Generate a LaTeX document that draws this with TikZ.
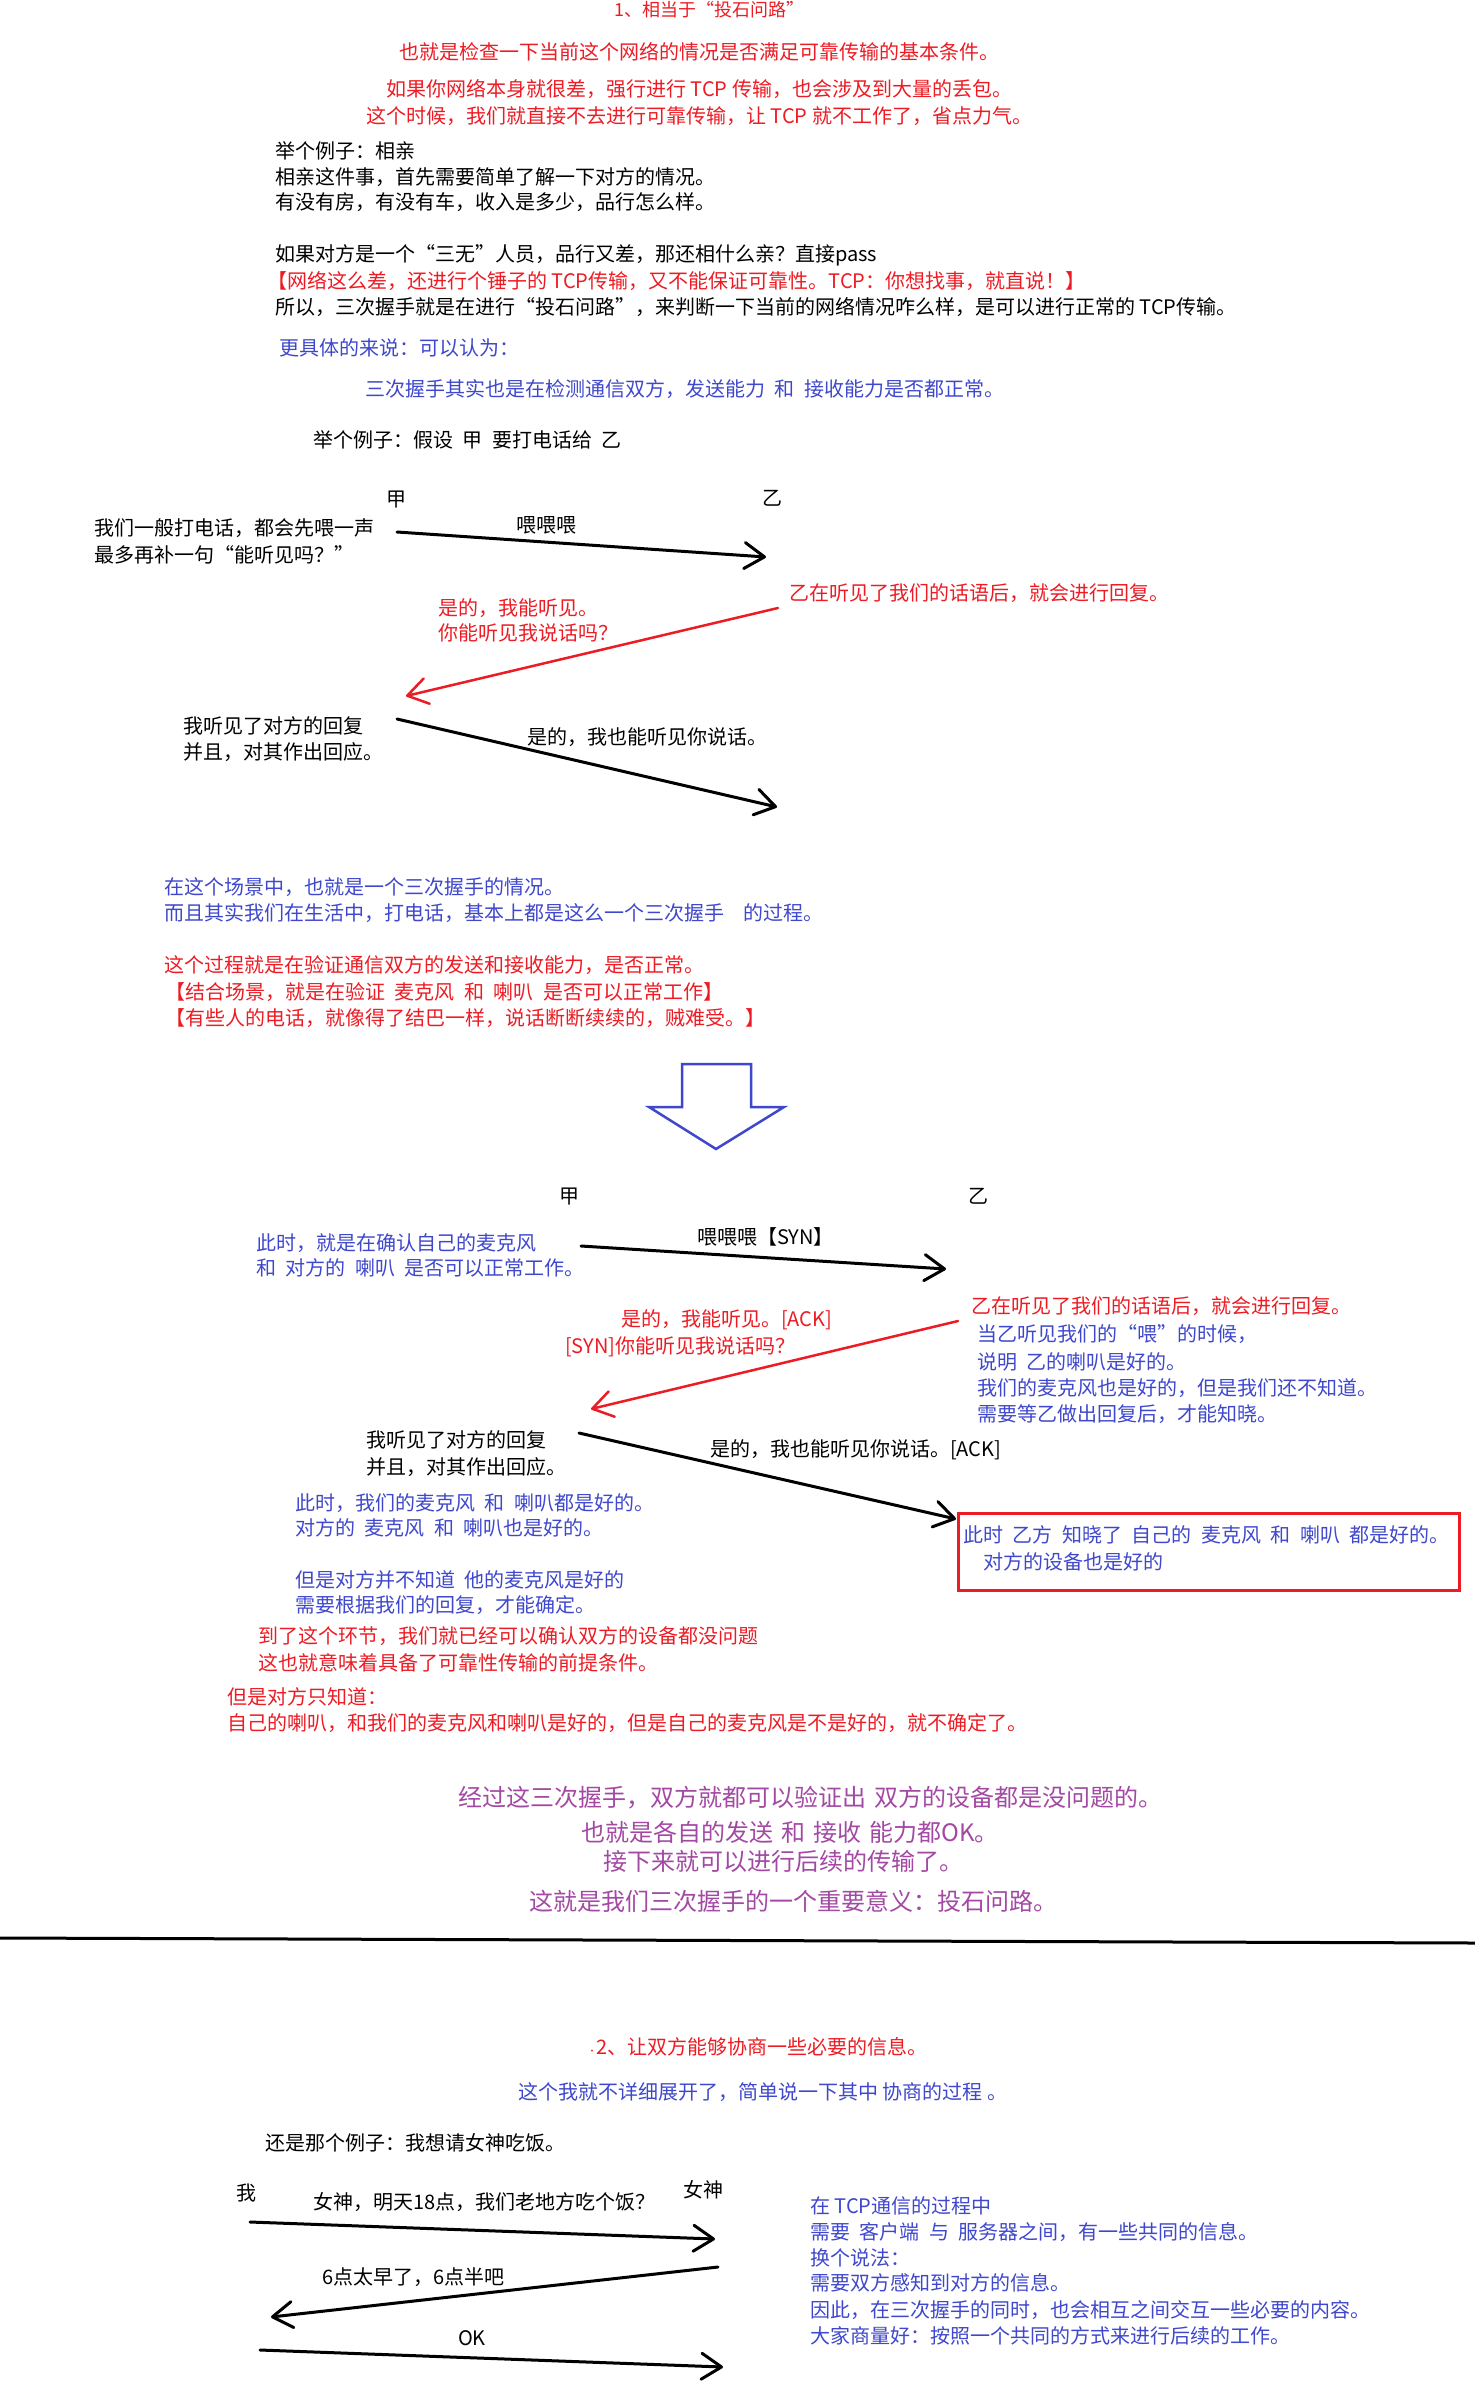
\documentclass[tikz,border=0pt]{standalone}
\usepackage{fontspec}
\setmainfont{Noto Sans CJK SC}
\usetikzlibrary{arrows.meta}
\definecolor{pred}{HTML}{ED1C24}
\definecolor{pblue}{HTML}{3F48CC}
\definecolor{ppurple}{HTML}{A349A4}
% body text: 20bp glyphs, wide word spaces between Chinese words
\newcommand\bodysize{\fontsize{20bp}{26bp}\selectfont\spaceskip 9.5bp\relax}
% body text with the font's own spaces, for lines mixing in Latin words
\newcommand\latinsize{\fontsize{20bp}{26bp}\selectfont\spaceskip 0pt\relax}
\newcommand\bigsize{\fontsize{24bp}{30bp}\selectfont\spaceskip 8bp\relax}
\newcommand\titlesize{\fontsize{18bp}{22bp}\selectfont}
\newcommand\tinydot{\makebox[8bp][c]{\fontsize{9bp}{9bp}\selectfont ·}}
\begin{document}
\begin{tikzpicture}[x=1bp,y=-1bp,
  txt/.style={anchor=west,inner sep=0pt,font=\bodysize},
  latin/.style={font=\latinsize},
  redtxt/.style={txt,text=pred},
  bluetxt/.style={txt,text=pblue},
  bigtxt/.style={txt,font=\bigsize,text=ppurple},
  lbl/.style={anchor=center,inner sep=0pt,font=\bodysize},
  msg/.style={line width=3bp,line cap=round,-{Straight Barb[length=20bp,width=26bp,round]}},
  redmsg/.style={msg,draw=pred,line width=2.5bp},
]
\fill[white] (0,0) rectangle (1475,2403);
\useasboundingbox (0,0) rectangle (1475,2403);

% ---- part 1: heading and introduction ----
\node[txt,font=\titlesize,text=pred] (title) at (614,10) {1、相当于“投石问路”};
\node[redtxt] (r1) at (399,52) {也就是检查一下当前这个网络的情况是否满足可靠传输的基本条件。};
\node[redtxt,latin] (r2) at (386,89) {如果你网络本身就很差，强行进行 TCP 传输，也会涉及到大量的丢包。};
\node[redtxt,latin] (r3) at (366,116) {这个时候，我们就直接不去进行可靠传输，让 TCP 就不工作了，省点力气。};

\node[txt] (e1) at (275,151) {举个例子：相亲};
\node[txt] (e2) at (275,177) {相亲这件事，首先需要简单了解一下对方的情况。};
\node[txt] (e3) at (275,202) {有没有房，有没有车，收入是多少，品行怎么样。};
\node[txt] (e4) at (275,255) {如果对方是一个“三无”人员，品行又差，那还相什么亲？直接pass};
\node[redtxt,latin] (e5) at (267,281) {【网络这么差，还进行个锤子的 TCP传输，又不能保证可靠性。TCP：你想找事，就直说！】};
\node[txt,latin] (e6) at (275,307) {所以，三次握手就是在进行“投石问路”，来判断一下当前的网络情况咋么样，是可以进行正常的 TCP传输。};

\node[bluetxt] (b1) at (279,348) {更具体的来说：可以认为：};
\node[bluetxt] (b2) at (365,389) {三次握手其实也是在检测通信双方，发送能力 和 接收能力是否都正常。};
\node[txt] (ex) at (313,440) {举个例子：假设 甲 要打电话给 乙};

% ---- first phone call ----
\node[lbl] (jia1) at (396,500) {甲};
\node[lbl] (yi1) at (772,498) {乙};
\node[txt] (d1a) at (94,528) {我们一般打电话，都会先喂一声};
\node[txt] (d1b) at (94,555) {最多再补一句“能听见吗？”};
\node[txt] (d1c) at (516,525) {喂喂喂};
\node[redtxt] (d1d) at (789,593) {乙在听见了我们的话语后，就会进行回复。};
\node[redtxt] (d1e) at (438,608) {是的，我能听见。};
\node[redtxt] (d1f) at (438,633) {你能听见我说话吗？};
\node[txt] (d1g) at (183,726) {我听见了对方的回复};
\node[txt] (d1h) at (183,752) {并且，对其作出回应。};
\node[txt] (d1i) at (527,737) {是的，我也能听见你说话。};

\coordinate (a1s) at (397,532);
\coordinate (a1e) at (766,557);
\coordinate (a2s) at (778,608);
\coordinate (a2e) at (406,696);
\coordinate (a3s) at (397,719);
\coordinate (a3e) at (777,807);
\draw[msg] (a1s) -- (a1e);
\draw[redmsg] (a2s) -- (a2e);
\draw[msg] (a3s) -- (a3e);

% ---- comments on the first call ----
\node[bluetxt] (c1) at (164,887) {在这个场景中，也就是一个三次握手的情况。};
\node[bluetxt] (c2) at (164,913) {而且其实我们在生活中，打电话，基本上都是这么一个三次握手\ \ 的过程。};
\node[redtxt] (c3) at (164,965) {这个过程就是在验证通信双方的发送和接收能力，是否正常。};
\node[redtxt] (c4) at (165,992) {【结合场景，就是在验证 麦克风 和 喇叭 是否可以正常工作】};
\node[redtxt] (c5) at (165,1018) {【有些人的电话，就像得了结巴一样，说话断断续续的，贼难受。】};

% hollow down arrow
\draw[pblue,line width=2.5bp,line join=miter]
  (682,1064) -- (751,1064) -- (751,1107) -- (784,1107) -- (716,1149)
  -- (649,1107) -- (682,1107) -- cycle;

% ---- second phone call with SYN / ACK ----
\node[lbl] (jia2) at (569,1197) {甲};
\node[lbl] (yi2) at (978,1196) {乙};
\node[bluetxt] (s1) at (256,1243) {此时，就是在确认自己的麦克风};
\node[bluetxt] (s2) at (256,1268) {和 对方的 喇叭 是否可以正常工作。};
\node[txt] (s3) at (697,1237) {喂喂喂【SYN】};
\node[redtxt] (s4) at (971,1306) {乙在听见了我们的话语后，就会进行回复。};
\node[redtxt] (s5) at (621,1320) {是的，我能听见。[ACK]};
\node[redtxt] (s6) at (565,1347) {[SYN]你能听见我说话吗？};
\node[bluetxt] (s7) at (977,1334) {当乙听见我们的“喂”的时候，};
\node[bluetxt] (s8) at (977,1362) {说明 乙的喇叭是好的。};
\node[bluetxt] (s9) at (977,1388) {我们的麦克风也是好的，但是我们还不知道。};
\node[bluetxt] (s10) at (977,1414) {需要等乙做出回复后，才能知晓。};
\node[txt] (s11) at (366,1440) {我听见了对方的回复};
\node[txt] (s12) at (366,1467) {并且，对其作出回应。};
\node[txt] (s13) at (710,1450) {是的，我也能听见你说话。[ACK]};
\node[bluetxt] (s14) at (295,1503) {此时，我们的麦克风 和 喇叭都是好的。};
\node[bluetxt] (s15) at (295,1528) {对方的 麦克风 和 喇叭也是好的。};
\node[bluetxt] (s16) at (295,1580) {但是对方并不知道 他的麦克风是好的};
\node[bluetxt] (s17) at (295,1605) {需要根据我们的回复，才能确定。};

\draw[pred,line width=3bp] (958,1513) rectangle (1459,1590);
\node[bluetxt] (s18) at (963,1535) {此时 乙方 知晓了 自己的 麦克风 和 喇叭 都是好的。};
\node[bluetxt] (s19) at (983,1562) {对方的设备也是好的};

\coordinate (b1s) at (581,1246);
\coordinate (b1e) at (946,1269);
\coordinate (b2s) at (958,1321);
\coordinate (b2e) at (591,1409);
\coordinate (b3s) at (579,1433);
\coordinate (b3e) at (956,1519);
\draw[msg] (b1s) -- (b1e);
\draw[redmsg] (b2s) -- (b2e);
\draw[msg] (b3s) -- (b3e);

\node[redtxt] (f1) at (258,1636) {到了这个环节，我们就已经可以确认双方的设备都没问题};
\node[redtxt] (f2) at (258,1663) {这也就意味着具备了可靠性传输的前提条件。};
\node[redtxt] (f3) at (227,1697) {但是对方只知道：};
\node[redtxt] (f4) at (227,1723) {自己的喇叭，和我们的麦克风和喇叭是好的，但是自己的麦克风是不是好的，就不确定了。};

\node[bigtxt] (g1) at (458,1798) {经过这三次握手，双方就都可以验证出 双方的设备都是没问题的。};
\node[bigtxt] (g2) at (581,1832) {也就是各自的发送 和 接收 能力都OK。};
\node[bigtxt] (g3) at (603,1861) {接下来就可以进行后续的传输了。};
\node[bigtxt] (g4) at (529,1901) {这就是我们三次握手的一个重要意义：投石问路。};

% separator
\draw[line width=3bp] (0,1938) -- (1475,1943);

% ---- part 2: negotiation ----
\node[redtxt] (h1) at (588,2047) {\tinydot 2、让双方能够协商一些必要的信息。};
\node[bluetxt,latin] (h2) at (518,2092) {这个我就不详细展开了，简单说一下其中 协商的过程 。};
\node[txt] (h3) at (265,2143) {还是那个例子：我想请女神吃饭。};

\node[lbl] (me) at (246,2193) {我};
\node[lbl] (her) at (703,2190) {女神};
\node[txt] (m1) at (313,2202) {女神，明天18点，我们老地方吃个饭？};
\node[txt] (m2) at (322,2277) {6点太早了，6点半吧};
\node[lbl] (m3) at (472,2338) {OK};

\coordinate (c1s) at (250,2222);
\coordinate (c1e) at (715,2239);
\coordinate (c2s) at (718,2267);
\coordinate (c2e) at (271,2317);
\coordinate (c3s) at (260,2350);
\coordinate (c3e) at (723,2367);
\draw[msg] (c1s) -- (c1e);
\draw[msg] (c2s) -- (c2e);
\draw[msg] (c3s) -- (c3e);

\node[bluetxt,latin] (k1) at (810,2206) {在 TCP通信的过程中};
\node[bluetxt] (k2) at (810,2232) {需要 客户端 与 服务器之间，有一些共同的信息。};
\node[bluetxt] (k3) at (810,2258) {换个说法：};
\node[bluetxt] (k4) at (810,2283) {需要双方感知到对方的信息。};
\node[bluetxt] (k5) at (810,2310) {因此，在三次握手的同时，也会相互之间交互一些必要的内容。};
\node[bluetxt] (k6) at (810,2336) {大家商量好：按照一个共同的方式来进行后续的工作。};
\end{tikzpicture}
\end{document}
